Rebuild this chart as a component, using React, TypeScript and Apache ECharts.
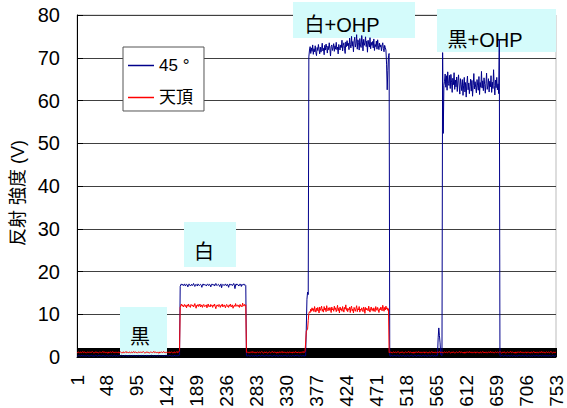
import React, { useEffect, useRef } from 'react';
import * as echarts from 'echarts';

// ---- categories / tick labels ----
const categories: string[] = Array.from({ length: 753 }, (_, i) => String(i + 1));
const yTicks = [0, 10, 20, 30, 40, 50, 60, 70, 80];
const seriesNames = ['45 °', '天頂'];
const yAxisName = '反射 強度 (V)';
const notes = ['黒', '白', '白+OHP', '黒+OHP'];

// ---- 45° (blue) series segments ----
const blueBaseA = [
  0.3,0.2,0.3,0.4,0.3,0.2,0.3,0.3,0.4,0.2,
  0.3,0.4,0.2,0.3,0.3,0.2,0.4,0.3,0.3,0.2,
  0.2,0.3,0.3,0.4,0.2,0.3,0.3,0.2,0.3,0.4,
  0.4,0.3,0.2,0.3,0.3,0.4,0.2,0.3,0.2,0.3,
  0.3,0.3,0.4,0.2,0.3,0.2,0.3,0.4,0.3,0.3,
  0.2,0.3,0.3,0.3,0.4,0.3,0.2,0.3,0.3,0.4,
  0.3,0.2,0.4,0.3,0.2,0.3,0.3,0.4,0.2,0.3,
  0.4,0.3,0.3,0.2,0.3,0.3,0.4,0.2,0.3,0.3,
  0.3,0.3,0.2,0.4,0.3,0.2,0.3,0.3,0.4,0.3,
  0.2,0.4,0.3,0.3,0.2,0.3,0.4,0.3,0.3,0.2,
  0.3,0.3,0.4,0.2,0.3,0.4,0.3,0.2,0.3,0.3,
  0.4,0.2,0.3,0.3,0.3,0.2,0.3,0.4,0.3,0.2,
  0.3,0.3,0.2,0.3,0.4,0.3,0.3,0.2,0.4,0.3,
  0.2,0.3,0.4,0.3,0.3,0.2,0.3,0.3,0.2,0.4,
  0.3,0.4,0.3,0.2,0.3,0.3,0.4,0.3,0.2,0.3,
  0.3,0.2,0.3,0.3,0.4,0.2,0.3,0.3,0.3,0.4,
  0.3,0.5,
];
const bluePlateauWhite = [
  16.5,16.9,17.1,16.8,17.0,16.7,16.9,17.1,16.6,16.8,
  17.0,16.9,16.4,16.8,17.1,16.9,16.6,16.8,17.0,16.7,
  16.9,17.2,16.8,16.5,16.9,17.0,16.8,16.6,17.1,16.9,
  16.7,16.9,17.0,16.8,16.3,16.9,17.1,16.8,16.9,17.0,
  16.8,16.6,16.9,17.1,16.8,16.7,17.0,16.9,16.4,16.8,
  17.1,16.9,16.8,17.0,16.6,16.9,17.2,16.8,16.7,16.9,
  17.0,16.8,16.5,16.9,17.1,16.2,16.8,17.0,16.9,16.7,
  16.9,17.1,16.8,16.6,17.0,16.9,16.3,16.8,17.1,16.9,
  16.8,17.0,16.7,16.9,17.2,16.8,16.0,16.9,17.1,16.8,
  17.0,16.9,16.6,16.8,17.1,16.9,16.5,17.0,16.8,16.9,
  17.1,16.8,16.9,16.7,
];
const blueBaseB = [
  0.3,0.2,0.3,0.4,0.3,0.3,0.2,0.3,0.4,0.3,
  0.2,0.3,0.3,0.2,0.4,0.3,0.3,0.2,0.3,0.3,
  0.4,0.3,0.2,0.3,0.3,0.4,0.2,0.3,0.3,0.2,
  0.3,0.3,0.4,0.3,0.2,0.3,0.3,0.3,0.4,0.2,
  0.3,0.2,0.3,0.3,0.4,0.3,0.2,0.4,0.3,0.3,
  0.2,0.3,0.4,0.2,0.3,0.3,0.3,0.2,0.3,0.4,
  0.3,0.4,0.3,0.3,0.2,0.3,0.4,0.3,0.2,0.3,
  0.3,0.2,0.3,0.4,0.3,0.2,0.3,0.3,0.4,0.3,
  0.4,0.3,0.3,0.2,0.3,0.4,0.3,0.2,0.3,0.3,
  0.3,0.2,0.4,0.3,0.3,
];
const blueRiseOHP = [13.5, 15.2, 14.6];
const bluePlateauWhiteOHP = [
  70.2,71.8,72.6,71.0,72.3,71.5,73.0,70.8,72.1,71.4,
  72.8,71.2,70.5,72.4,71.7,73.1,71.9,70.9,72.5,71.3,
  72.0,73.4,71.6,72.2,70.7,72.9,71.8,73.2,72.4,71.1,
  72.7,71.9,73.5,72.1,70.4,72.6,73.0,71.7,72.3,73.3,
  71.5,72.8,72.0,73.6,71.9,72.5,70.9,73.1,72.2,71.8,
  73.0,72.4,74.1,71.6,72.9,73.5,72.1,71.0,73.7,72.6,
  74.0,72.8,73.4,71.9,74.6,73.1,72.3,75.0,72.7,73.8,
  71.4,73.9,74.8,72.5,73.3,75.4,72.0,74.2,73.6,71.8,
  74.5,73.0,72.4,75.2,73.7,71.6,74.3,72.9,73.5,74.9,
  72.6,73.9,71.3,74.1,73.2,72.5,74.7,72.1,73.6,72.9,
  73.8,72.3,74.4,71.7,73.1,72.6,73.9,72.0,74.2,72.8,
  71.9,73.4,72.5,73.0,71.6,72.8,73.5,72.2,71.4,72.9,
  72.4,71.8,
];
const blueFallWhiteOHP = [68.5, 62.5, 67.0, 70.5, 71.0];
const blueBaseC = [
  0.3,0.3,0.2,0.4,0.3,0.2,0.3,0.3,0.4,0.3,
  0.2,0.3,0.4,0.3,0.3,0.2,0.3,0.4,0.3,0.2,
  0.3,0.4,0.3,0.2,0.3,0.3,0.2,0.3,0.4,0.3,
  0.3,0.2,0.3,0.3,0.4,0.3,0.3,0.2,0.3,0.4,
  0.4,0.3,0.2,0.3,0.3,0.4,0.2,0.3,0.3,0.3,
  0.2,0.3,0.3,0.4,0.2,0.3,0.4,0.3,0.3,0.2,
  0.3,0.4,0.3,0.3,0.2,0.3,0.3,0.4,0.3,0.2,
  0.3,0.4,0.2,0.3,0.3,0.4,
];
const blueSpikeBlackOHP = [4.5, 6.8, 5.0, 3.3, 0.6, 0.4, 0.3];
const blueRiseBlackOHP = [71.2, 52.3, 63.5];
const bluePlateauBlackOHP = [
  64.5,66.2,63.1,65.8,62.4,66.7,64.0,63.5,65.9,62.8,
  66.1,64.3,61.9,65.2,63.7,66.5,62.6,64.8,63.2,65.5,
  62.1,64.6,66.0,63.4,61.5,65.1,63.8,62.3,64.9,61.2,
  63.6,65.4,62.0,64.2,60.8,63.9,65.7,62.5,64.1,61.6,
  63.3,65.0,62.2,64.7,61.0,63.5,66.3,62.7,64.4,63.0,
  61.8,64.9,63.6,62.4,65.6,61.4,64.2,63.1,66.8,62.9,
  64.6,62.3,65.3,63.8,61.7,64.0,66.4,62.6,63.4,65.1,
  62.0,64.5,63.2,65.8,61.9,64.3,62.8,67.2,63.5,61.3,
  64.8,63.0,65.4,62.5,63.9,61.6,
];
const blueEndBlackOHP = [74.3];
const blueBaseD = [
  0.3,0.2,0.3,0.3,0.4,0.3,0.2,0.3,0.3,0.4,
  0.3,0.3,0.2,0.4,0.3,0.3,0.2,0.3,0.4,0.3,
  0.2,0.3,0.4,0.3,0.3,0.2,0.3,0.3,0.2,0.4,
  0.3,0.4,0.3,0.2,0.3,0.3,0.4,0.3,0.2,0.3,
  0.4,0.3,0.3,0.2,0.3,0.4,0.3,0.3,0.2,0.3,
  0.3,0.2,0.3,0.4,0.3,0.2,0.3,0.3,0.4,0.3,
  0.2,0.3,0.3,0.3,0.4,0.2,0.3,0.4,0.3,0.3,
  0.3,0.4,0.2,0.3,0.3,0.3,0.2,0.4,0.3,0.2,
  0.3,0.2,0.3,0.4,0.3,0.3,0.2,0.3,0.4,
];

// ---- 天頂 (red) series segments ----
const redBaseA = [
  1.1,1.0,1.2,1.1,0.9,1.1,1.2,1.0,1.1,1.3,
  1.0,1.1,1.2,1.0,1.1,0.9,1.1,1.2,1.1,1.0,
  1.2,1.1,1.0,1.1,1.3,1.1,1.0,0.9,1.1,1.2,
  1.0,1.2,1.1,0.9,1.0,1.1,1.2,1.1,1.0,1.1,
  1.1,1.3,1.0,1.1,1.2,1.0,1.1,1.1,0.9,1.2,
  0.9,1.1,1.1,1.2,1.0,1.1,1.3,1.0,1.1,1.0,
  1.2,1.0,1.1,1.0,1.1,1.2,0.9,1.1,1.2,1.1,
  1.0,1.1,0.9,1.2,1.1,1.0,1.1,1.3,1.0,1.1,
  1.1,1.0,1.2,1.1,0.9,1.1,1.2,1.0,1.1,1.3,
  1.0,1.1,1.2,1.0,1.1,0.9,1.1,1.2,1.1,1.0,
  1.2,1.1,1.0,1.1,1.3,1.1,1.0,0.9,1.1,1.2,
  1.0,1.2,1.1,0.9,1.0,1.1,1.2,1.1,1.0,1.1,
  1.1,1.3,1.0,1.1,1.2,1.0,1.1,1.1,0.9,1.2,
  0.9,1.1,1.1,1.2,1.0,1.1,1.3,1.0,1.1,1.0,
  1.2,1.0,1.1,1.0,1.1,1.2,0.9,1.1,1.2,1.1,
  1.0,1.1,0.9,1.2,1.1,1.0,1.1,1.3,1.0,1.1,
  1.2,1.6,
];
const redPlateauWhite = [
  11.6,12.1,12.4,11.9,12.2,11.7,12.0,12.3,11.8,12.1,
  11.5,12.2,11.9,12.4,11.8,12.0,11.6,12.3,12.1,11.9,
  12.2,11.7,12.0,12.5,11.8,11.4,12.1,11.9,12.3,11.8,
  12.0,12.4,11.7,11.9,12.2,11.6,12.1,12.3,11.8,12.0,
  11.9,12.2,11.5,12.1,12.4,11.8,12.0,11.7,12.3,11.9,
  12.1,11.6,12.2,11.9,12.4,11.8,11.3,12.0,12.2,11.9,
  11.8,12.3,12.0,11.6,12.1,11.9,12.4,11.7,12.0,12.2,
  11.9,11.5,12.1,12.3,11.8,12.0,11.6,12.2,11.9,12.4,
  11.7,12.0,12.2,11.4,11.9,12.1,11.8,12.5,11.9,12.0,
  12.2,11.8,12.1,11.6,12.3,11.9,12.0,11.7,12.6,12.1,
  11.9,12.3,12.0,12.2,
];
const redBaseB = [
  1.1,1.0,1.2,1.1,0.9,1.1,1.2,1.0,1.1,1.3,
  1.0,1.1,1.2,1.0,1.1,0.9,1.1,1.2,1.1,1.0,
  1.2,1.1,1.0,1.1,1.3,1.1,1.0,0.9,1.1,1.2,
  1.0,1.2,1.1,0.9,1.0,1.1,1.2,1.1,1.0,1.1,
  1.1,1.3,1.0,1.1,1.2,1.0,1.1,1.1,0.9,1.2,
  0.9,1.1,1.1,1.2,1.0,1.1,1.3,1.0,1.1,1.0,
  1.2,1.0,1.1,1.0,1.1,1.2,0.9,1.1,1.2,1.1,
  1.0,1.1,0.9,1.2,1.1,1.0,1.1,1.3,1.0,1.1,
  1.1,1.0,1.2,1.1,0.9,1.1,1.2,1.0,1.1,1.3,
  1.0,1.1,1.2,
];
const redRiseOHP = [3.5, 6.0, 6.3, 6.5, 8.5, 10.2, 10.6];
const redPlateauWhiteOHP = [
  10.4,11.2,10.7,11.5,10.9,11.3,10.6,11.8,11.0,10.5,
  11.4,10.8,11.6,11.1,10.3,11.7,10.9,11.3,11.9,10.7,
  11.2,10.5,11.8,11.0,11.4,10.6,12.0,11.1,10.8,11.5,
  10.9,11.6,11.2,10.4,11.7,11.0,11.3,10.7,11.9,11.1,
  11.5,10.6,11.2,12.1,10.8,11.4,10.3,11.7,11.0,11.3,
  10.7,11.8,11.1,10.5,11.6,11.2,12.2,10.9,11.4,10.6,
  11.3,11.0,11.7,10.4,11.5,11.9,10.8,11.2,10.3,11.6,
  11.1,10.7,11.4,12.0,10.6,11.3,11.0,11.8,10.5,11.2,
  10.9,11.5,11.1,10.6,11.7,11.3,10.2,11.6,11.0,11.4,
  11.2,10.8,11.9,11.0,10.5,11.4,11.7,10.9,11.3,10.7,
  11.5,11.0,10.6,11.8,11.2,10.9,11.6,11.1,10.4,11.3,
  11.0,11.7,11.2,10.8,12.1,11.4,10.7,11.6,11.0,11.9,
  11.2,11.5,10.9,11.3,
];
const redBaseC = [
  1.0,1.1,1.2,1.0,1.1,0.9,1.1,1.2,1.1,1.0,
  1.2,1.1,1.0,1.1,1.3,1.1,1.0,0.9,1.1,1.2,
  1.0,1.2,1.1,0.9,1.0,1.1,1.2,1.1,1.0,1.1,
  1.1,1.3,1.0,1.1,1.2,1.0,1.1,1.1,0.9,1.2,
  0.9,1.1,1.1,1.2,1.0,1.1,1.3,1.0,1.1,1.0,
  1.2,1.0,1.1,1.0,1.1,1.2,0.9,1.1,1.2,1.1,
  1.0,1.1,0.9,1.2,1.1,1.0,1.1,1.3,1.0,1.1,
  1.1,1.0,1.2,1.1,0.9,1.1,1.2,1.0,1.1,1.3,
  1.0,1.1,1.2,1.0,1.1,0.9,1.1,1.2,1.1,1.0,
  1.2,1.1,1.0,1.1,1.3,1.1,1.0,0.9,1.1,1.2,
  1.0,1.2,1.1,0.9,1.0,1.1,1.2,1.1,1.0,1.1,
  1.1,1.3,1.0,1.1,1.2,1.0,1.1,1.1,0.9,1.2,
  0.9,1.1,1.1,1.2,1.0,1.1,1.3,1.0,1.1,1.0,
  1.2,1.0,1.1,1.0,1.1,1.2,0.9,1.1,1.2,1.1,
  1.0,1.1,0.9,1.2,1.1,1.0,1.1,1.3,1.0,1.1,
  1.1,1.0,1.2,1.1,0.9,1.1,1.2,1.0,1.1,1.3,
  1.0,1.1,1.2,1.0,1.1,0.9,1.1,1.2,1.1,1.0,
  1.2,1.1,1.0,1.1,1.3,1.1,1.0,0.9,1.1,1.2,
  1.0,1.2,1.1,0.9,1.0,1.1,1.2,1.1,1.0,1.1,
  1.1,1.3,1.0,1.1,1.2,1.0,1.1,1.1,0.9,1.2,
  0.9,1.1,1.1,1.2,1.0,1.1,1.3,1.0,1.1,1.0,
  1.2,1.0,1.1,1.0,1.1,1.2,0.9,1.1,1.2,1.1,
  1.0,1.1,0.9,1.2,1.1,1.0,1.1,1.3,1.0,1.1,
  1.1,1.0,1.2,1.1,0.9,1.1,1.2,1.0,1.1,1.3,
  1.0,1.1,1.2,1.0,1.1,0.9,1.1,1.2,1.1,1.0,
  1.2,1.1,1.0,1.1,1.3,1.1,1.0,0.9,1.1,1.2,
  1.0,1.1,1.0,
];

const blueValues = [
  ...blueBaseA, ...bluePlateauWhite, ...blueBaseB, ...blueRiseOHP,
  ...bluePlateauWhiteOHP, ...blueFallWhiteOHP, ...blueBaseC,
  ...blueSpikeBlackOHP, ...blueRiseBlackOHP, ...bluePlateauBlackOHP,
  ...blueEndBlackOHP, ...blueBaseD,
];
const redValues = [
  ...redBaseA, ...redPlateauWhite, ...redBaseB, ...redRiseOHP,
  ...redPlateauWhiteOHP, ...redBaseC,
];

const FONT = "'Liberation Sans', 'Noto Sans CJK JP', sans-serif";
const NOTE_BG = '#d4fbfb';
const BLUE = '#00008b';
const RED = '#ff0000';

export default function App() {
  const ref = useRef<HTMLDivElement>(null);
  useEffect(() => {
    if (!ref.current) return;
    const chart = echarts.init(ref.current, undefined, { renderer: 'svg' });
    const noteBox = (x: number, y: number, w: number, h: number) => ({
      type: 'rect', z: 1, shape: { x, y, width: w, height: h }, style: { fill: NOTE_BG },
    });
    const noteText = (x: number, y: number, text: string) => ({
      type: 'text', z: 1, x, y,
      style: { text, fill: '#000', font: `20px ${FONT}`, align: 'center', verticalAlign: 'middle' },
    });
    chart.setOption({
      animation: false,
      backgroundColor: '#fff',
      grid: { left: 77, right: 11, top: 15, bottom: 51, show: true, borderColor: '#bbb', borderWidth: 1, outerBoundsMode: 'none' },
      xAxis: {
        type: 'category',
        data: categories,
        boundaryGap: false,
        axisLine: { lineStyle: { color: '#000', width: 1 } },
        axisTick: { show: true, inside: true, length: 9, interval: 0, lineStyle: { color: '#000', width: 1 } },
        axisLabel: { interval: 46, rotate: 90, margin: 18, fontSize: 19, color: '#000', fontFamily: FONT },
        splitLine: { show: false },
      },
      yAxis: {
        type: 'value',
        min: yTicks[0],
        max: yTicks[yTicks.length - 1],
        interval: 10,
        name: yAxisName,
        nameLocation: 'middle',
        nameGap: 39,
        nameTextStyle: { fontSize: 18, color: '#000', fontFamily: FONT, padding: [0, 14, 0, 0] },
        axisLine: { show: true, lineStyle: { color: '#000', width: 1 } },
        axisTick: { show: true, inside: true, length: 6, lineStyle: { color: '#000' } },
        axisLabel: { margin: 17, fontSize: 20, color: '#000', fontFamily: FONT },
        splitLine: { show: true, lineStyle: { color: '#404040', width: 1 } },
      },
      legend: {
        orient: 'vertical',
        left: 123,
        top: 47,
        backgroundColor: '#fff',
        borderColor: '#555',
        borderWidth: 1,
        padding: [10, 11, 5, 5],
        itemGap: 15,
        itemWidth: 26,
        itemHeight: 1.5,
        icon: 'rect',
        textStyle: { fontSize: 17, color: '#000', fontFamily: FONT },
        data: seriesNames,
      },
      graphic: [
        noteBox(120, 307, 47, 48), noteText(140, 337, notes[0]),
        noteBox(184, 222, 52, 45), noteText(204, 252, notes[1]),
        noteBox(293, 2, 122, 36), noteText(342, 25, notes[2]),
        noteBox(437, 9, 119, 43), noteText(485, 40, notes[3]),
      ],
      series: [
        {
          name: seriesNames[0], type: 'line', data: blueValues, symbol: 'none', showSymbol: false,
          lineStyle: { color: BLUE, width: 1 }, itemStyle: { color: BLUE }, z: 3,
        },
        {
          name: seriesNames[1], type: 'line', data: redValues, symbol: 'none', showSymbol: false,
          lineStyle: { color: RED, width: 1 }, itemStyle: { color: RED }, z: 4,
        },
      ],
    });
    return () => chart.dispose();
  }, []);
  return <div ref={ref} style={{ position: 'absolute', left: 0, top: 0, width: 567, height: 408 }} />;
}
